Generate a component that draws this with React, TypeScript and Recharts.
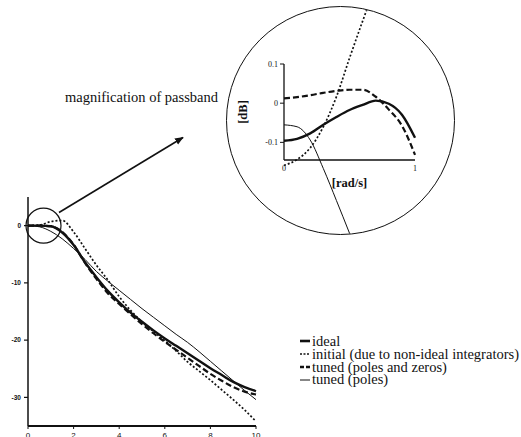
import { LineChart, Line, XAxis, YAxis, ReferenceDot } from "recharts";

// overall magnitude response, frequency in rad/s, gain in dB
const freq = [0, 0.5, 1, 1.5, 2, 2.5, 3, 3.5, 4, 4.5, 5, 5.5, 6, 6.5, 7, 7.5, 8, 8.5, 9, 9.5, 10];
const idealDb = [0, 0, -0.1, -1.2, -3.4, -6.4, -9.0, -11.4, -13.4, -15.2, -16.8, -18.3, -19.7, -21.0, -22.3, -23.6, -24.9, -26.1, -27.3, -28.2, -28.9];
const initialDb = [0, 0.1, 0.7, 0.9, -1.1, -4.0, -6.9, -9.5, -12.4, -14.8, -16.8, -18.5, -20.1, -21.9, -23.8, -25.4, -27.0, -28.7, -30.4, -32.2, -34.2];
const tunedPzDb = [0, 0, -0.1, -1.1, -3.3, -6.5, -9.3, -11.8, -13.7, -15.5, -17.2, -18.8, -20.3, -21.7, -23.1, -24.5, -25.9, -27.1, -28.2, -29.0, -29.5];
const tunedPDb = [0, -0.2, -1.0, -2.3, -4.0, -5.9, -8.0, -9.7, -11.3, -12.9, -14.5, -16.0, -17.5, -19.0, -20.4, -22.0, -23.7, -25.4, -27.1, -28.8, -30.4];

const freqTicks = [0, 2, 4, 6, 8, 10];
const dbTicks = [0, -10, -20, -30];

// passband detail, 0..1 rad/s
const passFreq = [0, 0.1, 0.2, 0.3, 0.4, 0.5, 0.6, 0.7, 0.8, 0.9, 1];
const passIdeal = [-0.097, -0.092, -0.078, -0.056, -0.036, -0.018, -0.005, 0.006, -0.002, -0.03, -0.089];
const passInitial = [-0.16, -0.145, -0.115, -0.061, 0.016, 0.115, 0.21, 0.3, null, null, null];
const passTunedPz = [0.012, 0.015, 0.02, 0.026, 0.031, 0.034, 0.034, 0.016, -0.017, -0.058, -0.133];
const passTunedP = [-0.056, -0.061, -0.095, -0.168, -0.25, -0.334, -0.42, null, null, null, null];

const passFreqTicks = [0, 1];
const passDbTicks = [-0.1, 0, 0.1];

const INK = "#111";
const SERIF = '"Liberation Serif", "Times New Roman", serif';
const SANS = '"Liberation Sans", Arial, sans-serif';

const series = [
  { key: "tunedP", name: "tuned (poles)", width: 1, dash: undefined, legendDash: undefined, legendWidth: 1 },
  { key: "initial", name: "initial (due to non-ideal integrators)", width: 1.7, dash: "2 2", legendDash: "2 1.5", legendWidth: 1.5 },
  { key: "tunedPz", name: "tuned (poles and zeros)", width: 2.2, dash: "6 3", legendDash: "4 2", legendWidth: 2.4 },
  { key: "ideal", name: "ideal", width: 2.4, dash: undefined, legendDash: undefined, legendWidth: 2.6 },
];
const legendOrder = ["ideal", "initial", "tunedPz", "tunedP"];

const rows = freq.map((f, i) => ({
  f,
  ideal: idealDb[i],
  initial: initialDb[i],
  tunedPz: tunedPzDb[i],
  tunedP: tunedPDb[i],
}));

const passRows = passFreq.map((f, i) => ({
  f,
  ideal: passIdeal[i],
  initial: passInitial[i],
  tunedPz: passTunedPz[i],
  tunedP: passTunedP[i],
}));

// magnifier circle on the page
const LENS = { left: 226, top: 6, size: 229, border: 1.5 };

function Legend() {
  return (
    <div style={{ position: "absolute", left: 300, top: 335, fontFamily: SERIF, fontSize: 14.5, lineHeight: "12.8px", color: INK }}>
      {legendOrder.map((k) => {
        const s = series.find((x) => x.key === k)!;
        return (
          <div key={k} style={{ display: "flex", alignItems: "center", whiteSpace: "nowrap", height: 12.8 }}>
            <svg width={11} height={8} style={{ marginRight: 1, flex: "none" }}>
              <line x1={0} y1={4} x2={10} y2={4} stroke={INK} strokeWidth={s.legendWidth} strokeDasharray={s.legendDash} />
            </svg>
            <span>{s.name}</span>
          </div>
        );
      })}
    </div>
  );
}

function PassbandLens() {
  return (
    <div
      style={{
        position: "absolute",
        left: LENS.left,
        top: LENS.top,
        width: LENS.size,
        height: LENS.size,
        boxSizing: "border-box",
        border: `${LENS.border}px solid ${INK}`,
        borderRadius: "50%",
        overflow: "hidden",
      }}
    >
      {/* axes of the passband plot */}
      <div style={{ position: "absolute", left: -LENS.border, top: -LENS.border }}>
        <LineChart width={LENS.size} height={LENS.size} data={passRows} margin={{ top: 58, right: 40, bottom: 55, left: 28 }}>
          <XAxis
            dataKey="f"
            type="number"
            domain={[0, 1]}
            ticks={passFreqTicks}
            height={20}
            tickLine={false}
            tickSize={3}
            axisLine={{ stroke: INK, strokeWidth: 1.6 }}
            tick={{ fontSize: 8, fill: INK, fontFamily: SERIF }}
            label={{
              content: (p: any) => (
                <text
                  x={p.viewBox.x + p.viewBox.width / 2}
                  y={p.viewBox.y + p.viewBox.height + 6.5}
                  textAnchor="middle"
                  fontFamily={SERIF}
                  fontWeight="bold"
                  fontSize={12.5}
                  fill={INK}
                >
                  [rad/s]
                </text>
              ),
            }}
          />
          <YAxis
            type="number"
            domain={[-0.145, 0.1]}
            allowDataOverflow
            ticks={passDbTicks}
            width={30}
            tickSize={4}
            tickMargin={2}
            axisLine={{ stroke: INK, strokeWidth: 1.3 }}
            tickLine={{ stroke: INK, strokeWidth: 1 }}
            tick={{ fontSize: 8, fill: INK, fontFamily: SERIF }}
            label={{
              content: (p: any) => {
                const x = p.viewBox.x - 11;
                const y = p.viewBox.y + p.viewBox.height / 2;
                return (
                  <text
                    x={x}
                    y={y}
                    transform={`rotate(-90 ${x} ${y})`}
                    textAnchor="middle"
                    dominantBaseline="central"
                    fontFamily={SERIF}
                    fontWeight="bold"
                    fontSize={12.5}
                    fill={INK}
                  >
                    [dB]
                  </text>
                );
              },
            }}
          />
        </LineChart>
      </div>
      {/* curves, spread over the whole lens and cut by its rim */}
      <div style={{ position: "absolute", left: -LENS.border, top: -LENS.border }}>
        <LineChart width={LENS.size} height={LENS.size} data={passRows} margin={{ top: 0, right: 0, bottom: 0, left: 0 }}>
          <XAxis dataKey="f" type="number" hide domain={[-0.4427, 1.305]} allowDataOverflow />
          <YAxis type="number" hide domain={[-0.3385, 0.2487]} allowDataOverflow />
          {series.map((s) => (
            <Line
              key={s.key}
              dataKey={s.key}
              type="monotone"
              stroke={INK}
              strokeWidth={s.width}
              strokeDasharray={s.dash}
              dot={false}
              activeDot={false}
              isAnimationActive={false}
            />
          ))}
        </LineChart>
      </div>
    </div>
  );
}

export default function App() {
  return (
    <div style={{ position: "absolute", left: 0, top: 0, width: 521, height: 437, overflow: "hidden", background: "#fff" }}>
      <div style={{ position: "absolute", left: 0, top: 0 }}>
        <LineChart width={270} height={470} data={rows} margin={{ top: 197, right: 14, bottom: 14, left: 0 }}>
          <XAxis
            dataKey="f"
            type="number"
            domain={[0, 10]}
            ticks={freqTicks}
            height={30}
            tickSize={3}
            tickMargin={3}
            axisLine={{ stroke: INK, strokeWidth: 2 }}
            tickLine={{ stroke: INK }}
            tick={{ fontSize: 8, fill: INK, fontFamily: SANS }}
          />
          <YAxis
            type="number"
            domain={[-35, 5]}
            ticks={dbTicks}
            width={28}
            tickSize={4}
            tickMargin={3}
            axisLine={{ stroke: INK, strokeWidth: 1.5 }}
            tickLine={{ stroke: INK, strokeWidth: 1.2 }}
            tick={{ fontSize: 6.5, fill: INK, fontFamily: SANS, fontWeight: 700 }}
          />
          {series.map((s) => (
            <Line
              key={s.key}
              dataKey={s.key}
              type="monotone"
              stroke={INK}
              strokeWidth={s.width}
              strokeDasharray={s.dash}
              dot={false}
              activeDot={false}
              isAnimationActive={false}
            />
          ))}
          <ReferenceDot x={0.68} y={0} r={17.5} fill="none" stroke={INK} strokeWidth={1.2} />
        </LineChart>
      </div>

      <svg width={521} height={437} style={{ position: "absolute", left: 0, top: 0, pointerEvents: "none" }}>
        <defs>
          <marker id="arrowHead" viewBox="0 0 10 10" refX="9" refY="5" markerWidth="5.5" markerHeight="5.5" orient="auto">
            <path d="M0,1 L10,5 L0,9 z" fill={INK} />
          </marker>
        </defs>
        <line x1={59} y1={212.5} x2={183} y2={137.5} stroke={INK} strokeWidth={1.6} markerEnd="url(#arrowHead)" />
        <text x={65} y={102} fontFamily={SERIF} fontSize={14.5} fill={INK}>
          magnification of passband
        </text>
      </svg>

      <PassbandLens />
      <Legend />
    </div>
  );
}
